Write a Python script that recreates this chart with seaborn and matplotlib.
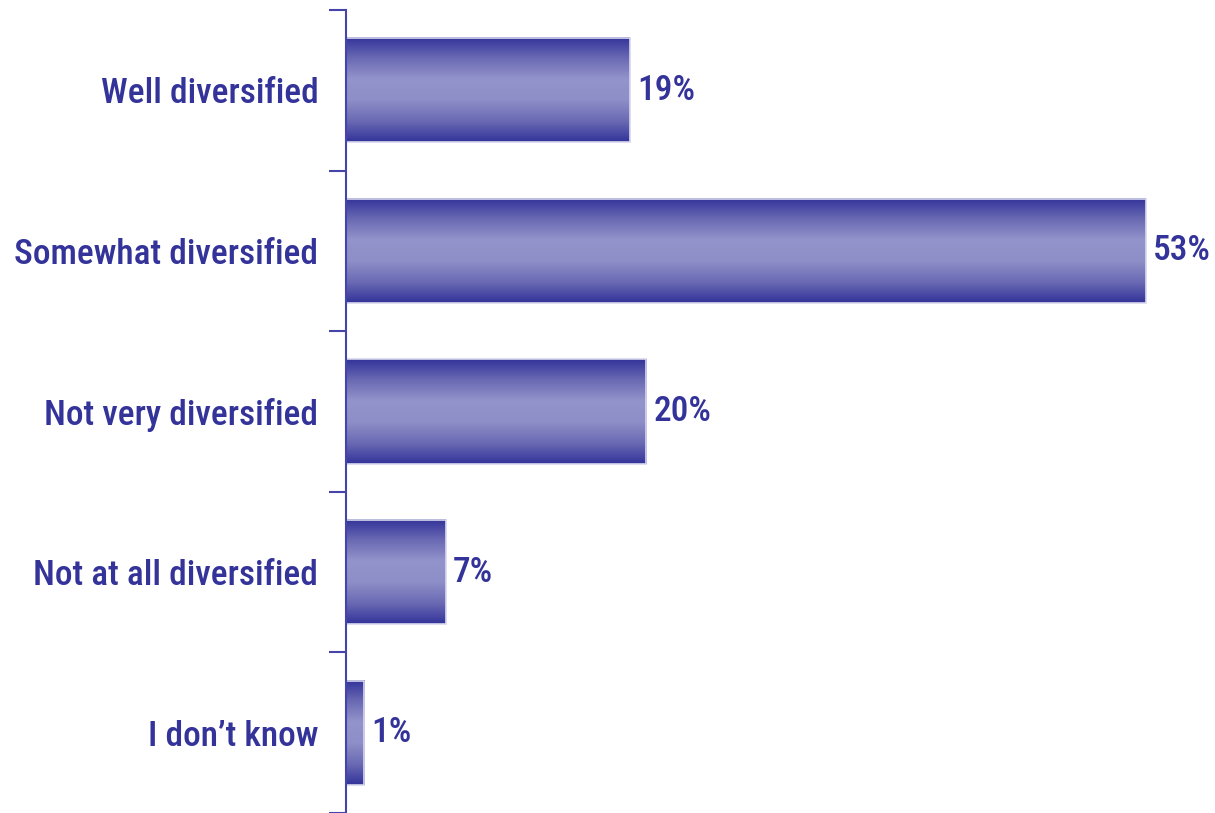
import numpy as np
import pandas as pd
import matplotlib
matplotlib.use('Agg')
import matplotlib.pyplot as plt
from matplotlib.colors import LinearSegmentedColormap
import seaborn as sns

categories = ['Well diversified', 'Somewhat diversified', 'Not very diversified',
              'Not at all diversified', "I don\u2019t know"]
values = [18.8, 53, 19.9, 6.6, 1.2]
labels = ['19%', '53%', '20%', '7%', '1%']

df = pd.DataFrame({'answer': categories, 'share': values})

sns.set_style('white')
plt.rcParams['font.family'] = ['Liberation Sans Narrow', 'Roboto Condensed', 'DejaVu Sans']
navy = '#33339a'

fig = plt.figure(figsize=(12.15, 8.13), dpi=100)
ax = fig.add_axes([0.2848, 0.0, 0.7152, 0.9877])

sns.barplot(data=df, x='share', y='answer', orient='h', ax=ax, width=0.65,
            color=navy, edgecolor='#d8d8ee', linewidth=1.2)

# vertical gradient: dark at the edges, light in the middle
cmap = LinearSegmentedColormap.from_list('bar', [navy, '#6a6ab4', '#9494cc', '#8e8ec8', '#6a6ab4', navy])
grad = np.linspace(0, 1, 256).reshape(-1, 1)
for p in ax.patches:
    x0, y0 = p.get_x(), p.get_y()
    w, h = p.get_width(), p.get_height()
    ax.imshow(grad, cmap=cmap, aspect='auto', extent=(x0, x0 + w, y0 + h, y0),
              zorder=p.get_zorder() + 0.1, clip_path=p, clip_on=True)
    p.set_facecolor('none')
    p.set_zorder(p.get_zorder() + 0.2)

for i, (v, lab) in enumerate(zip(values, labels)):
    ax.text(v + 0.5, i, lab, va='center', ha='left', fontsize=25.5,
            fontweight='medium', color=navy)

ax.set_xlim(0, 57.6)
ax.set_ylim(4.5, -0.5)
ax.set_xlabel('')
ax.set_ylabel('')
ax.set_xticks([])
ax.set_yticks(np.arange(-0.5, 5.0, 1.0))
ax.set_yticklabels([])
ax.set_yticks(range(len(categories)), minor=True)
ax.set_yticklabels(categories, minor=True, fontsize=25.5, fontweight='medium', color=navy)
ax.tick_params(axis='y', which='major', direction='out', length=12, width=1.5, color='#4444aa', left=True)
ax.tick_params(axis='y', which='minor', length=0, pad=20)

for s in ['top', 'right', 'bottom']:
    ax.spines[s].set_visible(False)
ax.spines['left'].set_color('#4444aa')
ax.spines['left'].set_linewidth(1.5)

fig.savefig('out.png', dpi=100)
